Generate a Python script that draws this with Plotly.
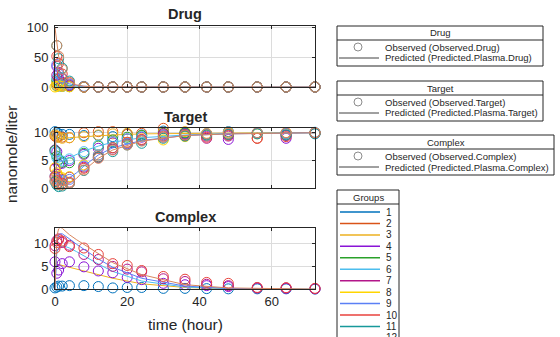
import plotly.graph_objects as go

# ---------------- data ----------------
T_OBS = [0, 0.5, 1, 2, 4, 8, 12, 16, 20, 24, 30, 36, 42, 48, 56, 64, 72]
T_PRED = [0, 0.25, 0.5, 1, 1.5, 2, 3, 4, 6, 8, 12, 16, 24, 36, 48, 60, 72]

GROUPS = ["1", "2", "3", "4", "5", "6", "7", "8", "9", "10", "11", "12"]
COLORS = ["#0072BD", "#D95319", "#EDB120", "#8A14D6", "#2AA12A", "#4DBEEE",
          "#B3168A", "#FFD500", "#5B80F5", "#E8423C", "#17999A", "#D9865D"]

DRUG_OBS = {
    "1":  [None, 2, 1.5, 1, 0.5, 0, 0, 0, 0, 0, 0, 0, 0, 0, 0, 0, 0],
    "2":  [None, 5, 4, 3, 1, 0, 0, 0, 0, 0, 0, 0, 0, 0, 0, 0, 0],
    "3":  [None, 8, 6, 3, 1.2, 0, 0, 0, 0, 0, 0, 0, 0, 0, 0, 0, 0],
    "4":  [None, 35, 25, 14, 4, 0.3, 0, 0, 0, 0, 0, 0, 0, 0, 0, 0, 0],
    "5":  [None, 12, 10, 6, 2, 0, 0, 0, 0, 0, 0, 0, 0, 0, 0, 0, 0],
    "6":  [None, 15, 9, 5, 3, 0.5, 0, 0, 0, 0, 0, 0, 0, 0, 0, 0, 0],
    "7":  [None, 20, 14, 8, 2.5, 0, 0, 0, 0, 0, 0, 0, 0, 0, 0, 0, 0],
    "8":  [0, 1, 2, 1, 0.3, 0, 0, 0, 0, 0, 0, 0, 0, 0, 0, 0, 0],
    "9":  [None, 38, 22, 15, 5, 1, 0, 0, 0, 0, 0, 0, 0, 0, 0, 0, 0],
    "10": [None, 52, 40, 22, 7, 0.4, 0, 0, 0, 0, 0, 0, 0, 0, 0, 0, 0],
    "11": [None, 70, 48, 32, 10, 0.5, 0, 0, 0, 0, 0, 0, 0, 0, 0, 0, 0],
    "12": [None, 70, 52, 30, 8, 0.3, 0, 0, 0, 0, 0, 0, 0, 0, 0, 0, 0],
}

TARGET_OBS = {
    "1":  [10.2, 10.0, 9.8, 9.7, 9.7, 9.5, 9.5, 9.3, 9.8, 9.6, 10.3, 9.9, 11.1, 10.2, 10.0, 9.6, 9.9],
    "2":  [9.4, 9.2, 9.3, 9.2, 9.1, 10.0, 10.2, 10.2, 9.7, 9.9, 10.8, 9.5, 9.8, 9.6, 9.0, 10.0, 9.9],
    "3":  [9.6, 9.4, 9.2, 9.0, 9.1, 9.3, 9.6, 9.8, 9.9, 9.5, 10.1, 10.2, 9.9, 10.1, 10.0, 9.8, 10.0],
    "4":  [6.9, 6.6, 4.3, 4.5, 5.0, 6.1, 7.2, 8.2, 8.9, 9.2, 9.6, 9.8, 9.4, 8.8, 9.9, 9.0, 9.9],
    "5":  [6.8, 5.8, 5.2, 4.7, 4.6, 6.3, 7.6, 8.7, 9.2, 9.5, 9.9, 10.0, 9.6, 9.8, 10.0, 9.9, 10.0],
    "6":  [6.5, 5.5, 5.0, 4.9, 5.3, 6.6, 7.8, 8.4, 8.9, 9.3, 9.5, 9.7, 9.8, 9.9, 10.0, 9.9, 10.1],
    "7":  [3.5, 2.5, 2.0, 1.6, 2.0, 3.8, 5.5, 7.0, 8.0, 8.7, 9.8, 9.7, 9.0, 9.4, 9.9, 9.5, 11.1],
    "8":  [3.7, 2.8, 2.2, 1.9, 2.1, 4.2, 6.0, 7.3, 8.2, 8.6, 8.7, 9.3, 9.6, 9.9, 9.8, 10.0, 10.0],
    "9":  [2.2, 1.7, 1.5, 1.4, 1.6, 4.0, 6.0, 7.3, 8.1, 8.6, 9.2, 9.5, 9.7, 9.8, 9.9, 9.9, 10.0],
    "10": [2.1, 1.4, 1.0, 0.9, 1.1, 3.6, 5.7, 7.3, 8.3, 8.8, 9.4, 9.5, 9.2, 9.6, 9.0, 9.3, 10.0],
    "11": [1.2, 0.6, 0.3, 0.4, 0.9, 3.2, 5.6, 6.6, 7.8, 8.1, 9.0, 9.4, 9.6, 9.7, 9.8, 9.6, 9.8],
    "12": [1.4, 0.9, 0.7, 0.6, 0.9, 3.3, 5.4, 6.9, 7.8, 8.5, 9.2, 9.6, 9.8, 9.9, 10.0, 10.0, 10.0],
}

COMPLEX_OBS = {
    "1":  [0.3, 0.5, 0.7, 0.7, 0.8, 0.8, 0.6, 0.3, 0.4, 0.4, 0.2, 0.2, 0.15, 0.1, 0.1, 0.1, 0.05],
    "4":  [6.0, 3.5, 4.2, 5.6, 6.0, 4.9, 4.0, 3.6, 2.6, 2.1, 1.3, 1.0, 0.8, 0.6, 0.3, 0.2, 0.1],
    "7":  [9.5, 10.6, 11.0, 10.2, 9.6, 7.6, 6.5, 5.0, 4.4, 3.8, 2.3, 1.7, 1.1, 0.8, 0.3, 0.3, 0.15],
    "10": [8.9, 10.2, 10.8, 10.5, 9.3, 9.0, 7.6, 5.6, 5.2, 4.1, 2.8, 2.2, 1.5, 1.3, 0.4, 0.35, 0.2],
}

DRUG_PRED = {
    "3":  [5, 4.5, 4, 3.3, 2.8, 2.3, 1.6, 1.1, 0.5, 0.2, 0.03, 0, 0, 0, 0, 0, 0],
    "6":  [20, 17, 14, 10, 8, 6, 4, 2.8, 1.3, 0.6, 0.1, 0, 0, 0, 0, 0, 0],
    "9":  [40, 33, 27, 20, 15, 12, 8, 5.5, 2.8, 1.3, 0.3, 0.05, 0, 0, 0, 0, 0],
    "12": [100, 85, 72, 52, 40, 31, 18, 10, 3.5, 1.2, 0.2, 0.05, 0, 0, 0, 0, 0],
}

TARGET_PRED = {
    "3":  [10, 9.4, 9.1, 9.0, 9.0, 9.0, 9.0, 9.1, 9.2, 9.3, 9.5, 9.6, 9.8, 9.9, 10, 10, 10],
    "6":  [10, 7.2, 5.8, 5.0, 4.8, 4.9, 5.2, 5.6, 6.2, 6.7, 7.6, 8.3, 9.1, 9.6, 9.85, 9.95, 10],
    "9":  [10, 4.5, 2.6, 1.7, 1.5, 1.4, 1.6, 1.9, 2.8, 4.0, 6.0, 7.3, 8.6, 9.5, 9.8, 9.95, 10],
    "12": [10, 2.8, 1.2, 0.6, 0.5, 0.5, 0.6, 0.9, 1.8, 3.2, 5.4, 6.9, 8.5, 9.5, 9.8, 9.95, 10],
}

COMPLEX_PRED = {
    "3":  [5.6, 5.55, 5.5, 5.4, 5.3, 5.2, 5.05, 4.9, 4.5, 4.0, 3.2, 2.4, 1.2, 0.4, 0.13, 0.04, 0.01],
    "6":  [0, 6, 8, 9.0, 9.3, 9.4, 9.3, 9.0, 8.2, 7.3, 5.5, 3.9, 1.8, 0.5, 0.15, 0.05, 0],
    "9":  [0, 8, 10.5, 11.8, 12.1, 12.1, 11.6, 11.0, 9.8, 8.7, 6.6, 4.8, 2.4, 0.7, 0.2, 0.05, 0],
    "12": [0, 9, 11.5, 13.2, 13.5, 13.3, 12.6, 11.9, 10.8, 9.8, 7.8, 5.8, 3.2, 1.0, 0.3, 0.1, 0.03],
}

# ---------------- figure ----------------
W, H = 560, 337
FONT = "Liberation Sans, Arial, sans-serif"
INK = "#262626"


def px(x):
    return x / W


def py(y):
    return 1 - y / H


fig = go.Figure()

species = [
    ("x", "y", DRUG_OBS, DRUG_PRED),
    ("x2", "y2", TARGET_OBS, TARGET_PRED),
    ("x3", "y3", COMPLEX_OBS, COMPLEX_PRED),
]

for xa, ya, obs, pred in species:
    for g, col in zip(GROUPS, COLORS):
        if g in pred:
            fig.add_trace(go.Scatter(
                x=T_PRED, y=pred[g], mode="lines", xaxis=xa, yaxis=ya,
                line=dict(color=col, width=1), showlegend=False, hoverinfo="skip"))
        if g in obs:
            fig.add_trace(go.Scatter(
                x=T_OBS, y=obs[g], mode="markers", xaxis=xa, yaxis=ya,
                marker=dict(symbol="circle-open", size=10, color=col,
                            line=dict(width=1, color=col)),
                cliponaxis=False, showlegend=False, hoverinfo="skip"))

XDOM = [px(55), px(315)]
axis_common = dict(showline=True, linecolor=INK, linewidth=1, mirror="ticks",
                   ticks="inside", ticklen=3, tickcolor=INK, showgrid=True,
                   gridcolor="#DCDCDC", gridwidth=1, zeroline=False, automargin=False,
                   tickfont=dict(family=FONT, size=13, color=INK))

layout = dict(
    width=W, height=H, margin=dict(l=0, r=0, t=0, b=0, pad=0), autosize=False,
    paper_bgcolor="white", plot_bgcolor="white", showlegend=False,
    font=dict(family=FONT, color=INK),
    xaxis=dict(domain=XDOM, anchor="y", range=[0, 72], tickvals=[0, 20, 40, 60],
               showticklabels=False, **axis_common),
    xaxis2=dict(domain=XDOM, anchor="y2", range=[0, 72], tickvals=[0, 20, 40, 60],
                showticklabels=False, **axis_common),
    xaxis3=dict(domain=XDOM, anchor="y3", range=[0, 72], tickvals=[0, 20, 40, 60],
                showticklabels=True, **axis_common),
    yaxis=dict(domain=[py(87), py(25.5)], anchor="x", range=[0, 104],
               tickvals=[0, 50, 100], ticklabelstandoff=3, **axis_common),
    yaxis2=dict(domain=[py(188.3), py(128.3)], anchor="x2", range=[0, 10.8],
                tickvals=[0, 5, 10], ticklabelstandoff=3, **axis_common),
    yaxis3=dict(domain=[py(289.3), py(228.3)], anchor="x3", range=[0, 13.3],
                tickvals=[0, 5, 10], ticklabelstandoff=3, **axis_common),
)
fig.update_layout(**layout)

annotations = []
shapes = []


def text(x, y, s, size, bold=False, xanchor="center", angle=0):
    annotations.append(dict(
        x=px(x), y=py(y), xref="paper", yref="paper", text=f"<b>{s}</b>" if bold else s,
        showarrow=False, xanchor=xanchor, yanchor="middle", textangle=angle,
        font=dict(family=FONT, size=size, color=INK)))


# titles and axis labels
text(185, 14, "Drug", 14.5, bold=True)
text(185, 117, "Target", 14.5, bold=True)
text(185, 217, "Complex", 14.5, bold=True)
text(185, 324, "time (hour)", 15.5)
text(11, 155, "nanomole/liter", 15.5, angle=-90)

# species legend boxes
boxes = [
    ("Drug", "Observed (Observed.Drug)", "Predicted (Predicted.Plasma.Drug)", 33, 543),
    ("Target", "Observed (Observed.Target)", "Predicted (Predicted.Plasma.Target)", 88, 543),
    ("Complex", "Observed (Observed.Complex)", "Predicted (Predicted.Plasma.Complex)", 142, 554),
]
for title, o_txt, p_txt, hy, rx in boxes:
    shapes.append(dict(type="rect", xref="paper", yref="paper",
                       x0=px(337), x1=px(rx), y0=py(hy - 7), y1=py(hy + 33),
                       line=dict(color=INK, width=1), fillcolor="white", layer="below"))
    shapes.append(dict(type="line", xref="paper", yref="paper",
                       x0=px(337), x1=px(rx), y0=py(hy + 7), y1=py(hy + 7),
                       line=dict(color=INK, width=1)))
    shapes.append(dict(type="circle", xref="paper", yref="paper",
                       x0=px(354), x1=px(362), y0=py(hy + 10), y1=py(hy + 18),
                       line=dict(color="#8C8C8C", width=1)))
    shapes.append(dict(type="line", xref="paper", yref="paper",
                       x0=px(339), x1=px(379), y0=py(hy + 25), y1=py(hy + 25),
                       line=dict(color="#404040", width=1)))
    text((337 + rx) / 2, hy, title, 9.5)
    text(383, hy + 14, o_txt, 9.5, xanchor="left")
    text(383, hy + 25, p_txt, 9.5, xanchor="left")

# groups legend box (clipped at the figure bottom, as in the reference)
shapes.append(dict(type="rect", xref="paper", yref="paper",
                   x0=px(337), x1=px(399), y0=py(190), y1=py(360),
                   line=dict(color=INK, width=1), fillcolor="white", layer="below"))
shapes.append(dict(type="line", xref="paper", yref="paper",
                   x0=px(337), x1=px(399), y0=py(204), y1=py(204),
                   line=dict(color=INK, width=1)))
text(368, 197, "Groups", 9.5)
for i, (g, col) in enumerate(zip(GROUPS, COLORS)):
    yy = 212 + i * 11.45
    shapes.append(dict(type="line", xref="paper", yref="paper",
                       x0=px(340), x1=px(380), y0=py(yy), y1=py(yy),
                       line=dict(color=col, width=1.5)))
    text(384, yy, g, 10, xanchor="left")

fig.update_layout(annotations=annotations, shapes=shapes)
fig.write_html("out.html")
